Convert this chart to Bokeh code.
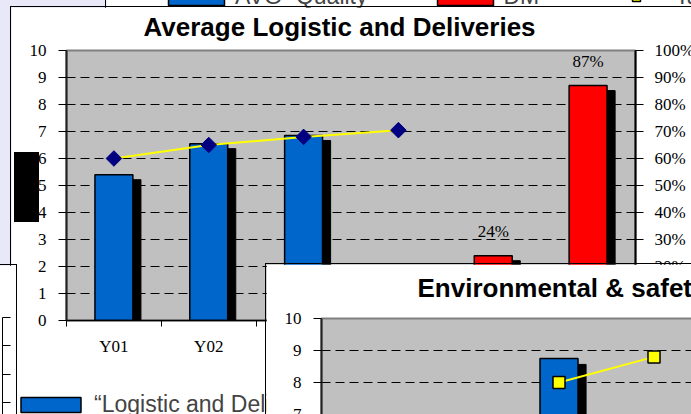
import math
from bokeh.plotting import figure
from bokeh.models import (Range1d, LinearAxis, FixedTicker, NumeralTickFormatter,
                          Legend, LegendItem, ColumnDataSource, Div)
from bokeh.layouts import column
from bokeh.transform import dodge
from bokeh.core.properties import value
from bokeh.embed import file_html
from bokeh.resources import INLINE

# ---------------- data ----------------
categories = ["Y01", "Y02", "Y03", "Y04", "Y05", "Y06"]

logistic_cats = ["Y01", "Y02", "Y03"]
logistic_avg = [5.4, 6.55, 6.85]
logistic_target_cats = ["Y01", "Y02", "Y03", "Y04"]
logistic_target = [6.0, 6.5, 6.8, 7.05]
dm_cats = ["Y05", "Y06"]
dm_share = [0.24, 0.87]

env_cats = ["Y03"]
env_avg = [8.75]
env_target_cats = ["Y03", "Y04"]
env_target = [8.0, 8.8]

score_ticks = list(range(0, 11))
pct_ticks = [i / 10 for i in range(0, 11)]

top_legend_labels = ["AVG- Quality", "DM", "Target"]
main_title = "Average Logistic and Deliveries"
env_title = "Environmental & safety"
main_legend_label = "\u201cLogistic and Deliveries\u201d"

# ---------------- style ----------------
BLUE = "#0066CC"
RED = "#FF0000"
NAVY = "#000080"
YELLOW = "#FFFF00"
PLOT_BG = "#C0C0C0"
PAGE_BG = "#E8E8F8"
SANS = "Liberation Sans"
SERIF = "Liberation Serif"
AXISLESS_INSET = 57   # left space Bokeh keeps in an axis-less helper figure


def pos(cats):
    return [categories.index(c) + 0.5 for c in cats]


src_log = ColumnDataSource(dict(x=pos(logistic_cats), top=logistic_avg))
src_dm = ColumnDataSource(dict(x=pos(dm_cats), top=dm_share,
                               label=[f"{round(v * 100)}%" for v in dm_share]))
src_t = ColumnDataSource(dict(x=pos(logistic_target_cats), y=logistic_target))
src_env = ColumnDataSource(dict(x=pos(env_cats), top=env_avg))
src_et = ColumnDataSource(dict(x=pos(env_target_cats), y=env_target))


def abs_style(left, top, outline=None):
    s = {"position": "absolute", "left": f"{left}px", "top": f"{top}px"}
    if outline:
        s["outline"] = outline
    return s


def style_score_axis(ax):
    ax.ticker = FixedTicker(ticks=score_ticks, minor_ticks=[])
    ax.major_tick_out = 8
    ax.major_tick_in = 0
    ax.major_tick_line_color = "black"
    ax.axis_line_color = "#222222"
    ax.axis_line_width = 2
    ax.major_label_standoff = 12
    ax.major_label_text_font = SERIF
    ax.major_label_text_font_size = "17px"
    ax.major_label_text_color = "black"


def style_grid(fig):
    fig.ygrid.ticker = FixedTicker(ticks=score_ticks[1:-1])
    fig.ygrid.grid_line_color = "black"
    fig.ygrid.grid_line_dash = "9 5"
    fig.ygrid.grid_line_width = 1
    fig.xgrid.visible = False


def title_box(text, left, top, width):
    # transparent overlay that only carries a chart title
    f = figure(width=width, height=44, x_range=Range1d(0, 1), y_range=Range1d(0, 1),
               x_axis_type=None, y_axis_type=None, title=text,
               output_backend="svg", toolbar_location=None,
               min_border_left=0, min_border_right=0, min_border_top=0, min_border_bottom=0,
               background_fill_alpha=0, border_fill_alpha=0, outline_line_color=None,
               styles=abs_style(left - AXISLESS_INSET - 1, top))
    f.grid.visible = False
    f.title.text_font = SANS
    f.title.text_font_size = "26px"
    f.title.text_font_style = "bold"
    f.title.text_color = "black"
    f.title.align = "left"
    f.title.offset = 0
    f.title.standoff = 0
    return f


def legend_box(left, top, width, height, outline=None):
    # a plain box whose data lies outside its ranges: only its legend shows
    f = figure(width=width, height=height, x_range=Range1d(100, 101), y_range=Range1d(100, 101),
               x_axis_type=None, y_axis_type=None,
               output_backend="svg", toolbar_location=None,
               min_border_left=0, min_border_right=0, min_border_top=0, min_border_bottom=0,
               background_fill_color="white", border_fill_color="white",
               outline_line_color=None,
               styles=abs_style(left, top, outline))
    f.grid.visible = False
    return f


# ---------------- top legend strip (partially visible) ----------------
top_leg = legend_box(106, -30, 700, 40, "1px solid #000")
r_q = top_leg.vbar(x="x", top="top", width=0.4, source=src_log, fill_color=BLUE,
                   line_color="black", line_width=1.5)
r_d = top_leg.vbar(x="x", top="top", width=0.4, source=src_dm, fill_color=RED,
                   line_color="black", line_width=1.5)
r_tl = top_leg.line(x="x", y="y", source=src_et, line_color=YELLOW, line_width=2)
r_ts = top_leg.scatter(x="x", y="y", source=src_et, marker="square", size=14,
                       fill_color=YELLOW, line_color="black", line_width=1.5)
tl = Legend(items=[LegendItem(label=top_legend_labels[0], renderers=[r_q]),
                   LegendItem(label=top_legend_labels[1], renderers=[r_d]),
                   LegendItem(label=top_legend_labels[2], renderers=[r_tl, r_ts])],
            orientation="horizontal", location="bottom_left", glyph_width=70, glyph_height=20,
            label_standoff=4, spacing=62, padding=0, margin=0,
            label_text_font=SANS, label_text_font_size="23px",
            border_line_alpha=0, background_fill_alpha=0)
top_leg.add_layout(tl)

# ---------------- main chart ----------------
main = figure(frame_width=569, frame_height=270, x_range=Range1d(0, 6), y_range=Range1d(0, 10),
              output_backend="svg", toolbar_location=None,
              min_border_left=54, min_border_top=43, min_border_right=60, min_border_bottom=100,
              background_fill_color=PLOT_BG, border_fill_color="white",
              outline_line_color="#808080", outline_line_width=2,
              styles=abs_style(11, 7, "1px solid #000"))
style_score_axis(main.yaxis[0])
style_grid(main)

xax = main.xaxis[0]
xax.ticker = FixedTicker(ticks=pos(categories), minor_ticks=list(range(len(categories) + 1)))
xax.major_label_overrides = {p: c for p, c in zip(pos(categories), categories)}
xax.major_tick_out = 0
xax.major_tick_in = 0
xax.minor_tick_out = 6
xax.minor_tick_in = 0
xax.minor_tick_line_color = "black"
xax.axis_line_color = "black"
xax.axis_line_width = 1.5
xax.major_label_standoff = 10
xax.major_label_text_font = SERIF
xax.major_label_text_font_size = "17px"
xax.major_label_text_color = "black"

main.extra_y_ranges = {"pct": Range1d(0, 1)}
rax = LinearAxis(y_range_name="pct", ticker=FixedTicker(ticks=pct_ticks, minor_ticks=[]),
                 formatter=NumeralTickFormatter(format="0%"))
rax.major_tick_out = 8
rax.major_tick_in = 0
rax.axis_line_color = "black"
rax.axis_line_width = 2
rax.major_label_standoff = 11
rax.major_label_text_font = SERIF
rax.major_label_text_font_size = "17px"
rax.major_label_text_color = "black"
main.add_layout(rax, "right")

main.vbar(x=dodge("x", 0.085), top=dodge("top", -0.185), width=0.4, source=src_log,
          fill_color="black", line_color="black")
main.vbar(x="x", top="top", width=0.4, source=src_log, fill_color=BLUE,
          line_color="black", line_width=1.5)

main.vbar(x=dodge("x", 0.085), top=dodge("top", -0.0185), width=0.4, source=src_dm,
          fill_color="black", line_color="black", y_range_name="pct")
main.vbar(x="x", top="top", width=0.4, source=src_dm, fill_color=RED,
          line_color="black", line_width=1.5, y_range_name="pct")
main.text(x="x", y="top", text="label", source=src_dm, y_range_name="pct",
          text_align="center", text_baseline="alphabetic", y_offset=-24,
          text_font=value(SERIF), text_font_size="17px", text_color="black")

main.line("x", "y", source=src_t, line_color=YELLOW, line_width=2)
main.scatter("x", "y", source=src_t, marker="square", angle=math.pi / 4, size=11,
             fill_color=NAVY, line_color=NAVY)

main_title_box = title_box(main_title, 146, 9, 520)

# ---------------- main chart legend (bottom, partly covered) ----------------
main_leg = legend_box(15 - AXISLESS_INSET, 378, 460, 40)
r_ml = main_leg.vbar(x="x", top="top", width=0.4, source=src_log, fill_color=BLUE,
                     line_color="black", line_width=1.5)
ml = Legend(items=[LegendItem(label=main_legend_label, renderers=[r_ml])],
            orientation="horizontal", location="bottom_left",
            glyph_width=75, glyph_height=19, label_standoff=6,
            padding=0, margin=0, spacing=0,
            label_text_font=SANS, label_text_font_size="23px",
            border_line_alpha=0, background_fill_alpha=0)
main_leg.add_layout(ml)

# ---------------- black block ----------------
block = Div(text="", width=25, height=70, margin=0,
            styles={"position": "absolute", "left": "14px", "top": "152px",
                    "background-color": "black"})

# ---------------- side chart (only its right axis shows) ----------------
side = figure(frame_width=200, frame_height=283, x_range=Range1d(0, 1), y_range=Range1d(0, 1),
              y_axis_location="right", output_backend="svg", toolbar_location=None,
              min_border_left=10, min_border_top=52, min_border_right=59, min_border_bottom=20,
              background_fill_color="white", border_fill_color="white", outline_line_color=None,
              styles=abs_style(-253, 265, "1px solid #000"))
side.xaxis.visible = False
side.grid.visible = False
sax = side.yaxis[0]
sax.ticker = FixedTicker(ticks=pct_ticks, minor_ticks=[])
sax.formatter = NumeralTickFormatter(format="0%")
sax.major_tick_out = 8
sax.major_tick_in = 0
sax.major_label_standoff = 7
sax.major_label_text_font = SERIF
sax.major_label_text_font_size = "17px"
sax.major_label_text_color = "black"

# ---------------- environmental chart ----------------
env = figure(frame_width=570, frame_height=320, x_range=Range1d(0, 6), y_range=Range1d(0, 10),
             output_backend="svg", toolbar_location=None,
             min_border_left=55, min_border_top=54, min_border_right=20, min_border_bottom=20,
             background_fill_color=PLOT_BG, border_fill_color="white",
             outline_line_color="#808080", outline_line_width=2,
             styles=abs_style(266, 264, "1px solid #000"))
style_score_axis(env.yaxis[0])
style_grid(env)
env.xaxis.visible = False

env.vbar(x=dodge("x", 0.085), top=dodge("top", -0.185), width=0.4, source=src_env,
         fill_color="black", line_color="black")
env.vbar(x="x", top="top", width=0.4, source=src_env, fill_color=BLUE,
         line_color="black", line_width=1.5)
env.line("x", "y", source=src_et, line_color=YELLOW, line_width=2)
env.scatter("x", "y", source=src_et, marker="square", size=12,
            fill_color=YELLOW, line_color="black", line_width=1.5)

env_title_box = title_box(env_title, 420, 270, 400)

# ---------------- page ----------------
root = column(top_leg, main, main_title_box, main_leg, block, side, env, env_title_box,
              width=691, height=414,
              styles={"position": "absolute", "left": "0px", "top": "0px",
                      "overflow": "hidden", "background-color": PAGE_BG})

open("out.html", "w").write(file_html(root, INLINE))
